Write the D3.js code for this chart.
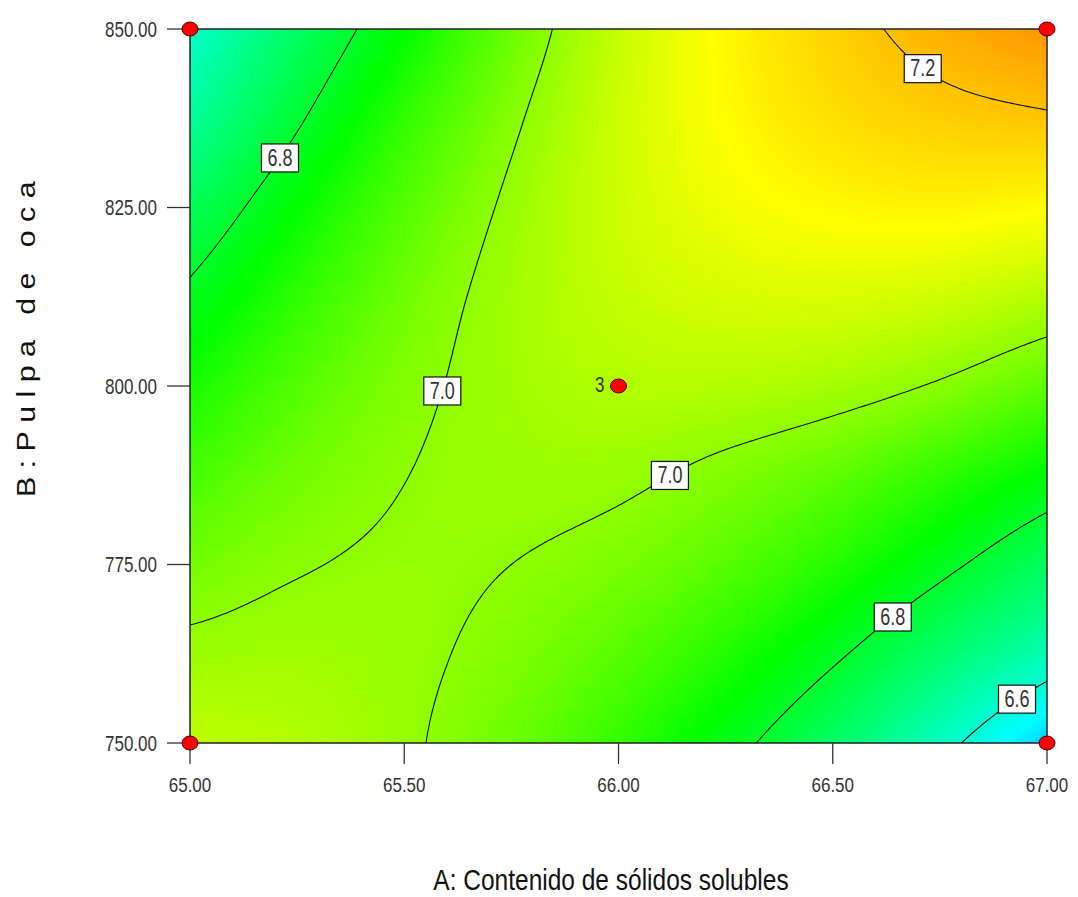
<!DOCTYPE html>
<html>
<head>
<meta charset="utf-8">
<script src="https://cdn.jsdelivr.net/npm/d3@7"></script>
<style>
body { margin: 0; background: #fff; }
text { font-family: "Liberation Sans", Arial, sans-serif; fill: #333; }
</style>
</head>
<body>
<div class="chart"></div>
<script>

// factor levels of the grid
var solidos = [65, 65.25, 65.5, 65.75, 66, 66.25, 66.5, 66.75, 67];        // A
var pulpa = [750, 762.5, 775, 787.5, 800, 812.5, 825, 837.5, 850];        // B

// predicted response, one row per pulpa level (750 -> 850)
var respuesta = [
  [7.050, 7.037, 7.008, 6.962, 6.902, 6.825, 6.732, 6.624, 6.500],
  [7.013, 7.019, 7.009, 6.984, 6.942, 6.885, 6.812, 6.724, 6.640],
  [6.971, 6.996, 7.006, 7.000, 6.979, 6.941, 6.888, 6.818, 6.740],
  [6.924, 6.969, 6.999, 7.012, 7.010, 6.985, 6.950, 6.900, 6.843],
  [6.873, 6.937, 6.986, 7.019, 7.037, 7.038, 7.024, 6.994, 6.948],
  [6.814, 6.898, 6.967, 7.020, 7.056, 7.076, 7.080, 7.068, 7.040],
  [6.746, 6.850, 6.938, 7.010, 7.066, 7.104, 7.126, 7.133, 7.123],
  [6.668, 6.791, 6.899, 6.990, 7.066, 7.122, 7.160, 7.182, 7.194],
  [6.612, 6.735, 6.850, 6.961, 7.057, 7.128, 7.178, 7.222, 7.255]
];

var ticksA = [65, 65.5, 66, 66.5, 67];
var ticksB = [750, 775, 800, 825, 850];
var niveles = [6.6, 6.8, 7.0, 7.2];

// design points
var puntosA = [65, 65, 67, 67, 66];
var puntosB = [750, 850, 750, 850, 800];
var replicas = [1, 1, 1, 1, 3];

// contour labels: level and the A (or B) value where the label sits on its line
var etiquetas = [
  {nivel: 7.2, a: 66.71},
  {nivel: 6.8, a: 65.21},
  {nivel: 7.0, b: 799.3},
  {nivel: 7.0, a: 66.12},
  {nivel: 6.8, a: 66.64},
  {nivel: 6.6, a: 66.93}
];

var W = 1078, H = 897;
var pL = 190, pR = 1047, pT = 29, pB = 743;

var svg = d3.select("div.chart").append("svg")
  .attr("width", W).attr("height", H);

var x = d3.scaleLinear().domain([65, 67]).range([pL, pR]);
var y = d3.scaleLinear().domain([750, 850]).range([pB, pT]);

//colour ramp blue - cyan - green - yellow - red
var color = d3.scaleLinear()
  .domain([6.3, 6.55, 6.85, 7.12, 7.45])
  .range(["#0000ff", "#00ffff", "#00ff00", "#ffff00", "#ff0000"])
  .clamp(true);

// grid value with linear extension past the edges
function g(i, j) {
  var n = solidos.length, m = pulpa.length;
  if (i < 0) return 2 * g(0, j) - g(1, j);
  if (i > n - 1) return 2 * g(n - 1, j) - g(n - 2, j);
  if (j < 0) return 2 * g(i, 0) - g(i, 1);
  if (j > m - 1) return 2 * g(i, m - 1) - g(i, m - 2);
  return respuesta[j][i];
}

function cr(p0, p1, p2, p3, t) {
  return p1 + 0.5 * t * (p2 - p0 + t * (2 * p0 - 5 * p1 + 4 * p2 - p3 + t * (3 * (p1 - p2) + p3 - p0)));
}

// smooth surface between the grid values
function superficie(a, b) {
  var n = solidos.length, m = pulpa.length;
  var u = (a - solidos[0]) / (solidos[1] - solidos[0]);
  var v = (b - pulpa[0]) / (pulpa[1] - pulpa[0]);
  u = Math.max(0, Math.min(n - 1, u));
  v = Math.max(0, Math.min(m - 1, v));
  var i = Math.min(Math.floor(u), n - 2), j = Math.min(Math.floor(v), m - 2);
  var t = u - i, s = v - j;
  var r = [];
  for (var k = -1; k <= 2; k++) {
    r.push(cr(g(i - 1, j + k), g(i, j + k), g(i + 1, j + k), g(i + 2, j + k), t));
  }
  return cr(r[0], r[1], r[2], r[3], s);
}

// ---- colour fill (raster) ----
var pw = pR - pL, ph = pB - pT;
var canvas = document.createElement("canvas");
canvas.width = pw; canvas.height = ph;
var ctx = canvas.getContext("2d");
var img = ctx.createImageData(pw, ph);
var lut = [], lo = 6.3, hi = 7.45, nl = 600;
for (var k = 0; k <= nl; k++) lut.push(d3.rgb(color(lo + (hi - lo) * k / nl)));
for (var py = 0; py < ph; py++) {
  var b = y.invert(pT + py + 0.5);
  for (var px = 0; px < pw; px++) {
    var a = x.invert(pL + px + 0.5);
    var val = superficie(a, b);
    var c = lut[Math.max(0, Math.min(nl, Math.round((val - lo) / (hi - lo) * nl)))];
    var o = (py * pw + px) * 4;
    img.data[o] = c.r; img.data[o + 1] = c.g; img.data[o + 2] = c.b; img.data[o + 3] = 255;
  }
}
ctx.putImageData(img, 0, 0);

svg.append("image")
  .attr("x", pL).attr("y", pT)
  .attr("width", pw).attr("height", ph)
  .attr("preserveAspectRatio", "none")
  .attr("href", canvas.toDataURL());

// ---- contour lines ----
svg.append("clipPath").attr("id", "plotclip")
  .append("rect").attr("x", pL).attr("y", pT).attr("width", pw).attr("height", ph);

var step = 3;
var nx = Math.ceil((pw + 2 * step) / step) + 1, ny = Math.ceil((ph + 2 * step) / step) + 1;
var grid = new Array(nx * ny);
for (var j = 0; j < ny; j++) {
  for (var i = 0; i < nx; i++) {
    grid[j * nx + i] = superficie(x.invert(pL - step + i * step), y.invert(pT - step + j * step));
  }
}
var contours = d3.contours().size([nx, ny]).thresholds(niveles)(grid);
var path = d3.geoPath(d3.geoTransform({
  point: function(cx, cy) {
    this.stream.point(pL - step + step * (cx - 0.5), pT - step + step * (cy - 0.5));
  }
}));

svg.append("g")
  .attr("clip-path", "url(#plotclip)")
  .selectAll("path")
  .data(contours)
  .enter()
  .append("path")
  .attr("d", path)
  .attr("fill", "none")
  .attr("stroke", "#111")
  .attr("stroke-width", 1.1);

// frame
svg.append("rect")
  .attr("x", pL).attr("y", pT).attr("width", pw).attr("height", ph)
  .attr("fill", "none").attr("stroke", "#222").attr("stroke-width", 1.5);

// ---- axes ----
svg.append("g").selectAll("line").data(ticksA).enter().append("line")
  .attr("x1", d => x(d)).attr("x2", d => x(d))
  .attr("y1", pB).attr("y2", pB + 21)
  .attr("stroke", "#333").attr("stroke-width", 1.3);
svg.append("g").selectAll("text").data(ticksA).enter().append("text")
  .attr("transform", d => "translate(" + x(d) + "," + (pB + 49) + ") scale(1,1.22)")
  .attr("text-anchor", "middle")
  .style("font-size", "17px")
  .text(d => d3.format(".2f")(d));

svg.append("g").selectAll("line").data(ticksB).enter().append("line")
  .attr("x1", pL - 23).attr("x2", pL)
  .attr("y1", d => y(d)).attr("y2", d => y(d))
  .attr("stroke", "#333").attr("stroke-width", 1.3);
svg.append("g").selectAll("text").data(ticksB).enter().append("text")
  .attr("transform", d => "translate(157," + (y(d) + 7.5) + ") scale(1,1.25)")
  .attr("text-anchor", "end")
  .style("font-size", "17px")
  .text(d => d3.format(".2f")(d));

svg.append("text")
  .attr("transform", "translate(611,890) scale(1,1.2)")
  .attr("text-anchor", "middle")
  .style("font-size", "24.5px")
  .style("fill", "#111")
  .text("A: Contenido de sólidos solubles");

svg.append("text")
  .attr("transform", "translate(35,335) rotate(-90) scale(1.17,1)")
  .attr("text-anchor", "middle")
  .style("letter-spacing", "7.2px")
  .style("font-size", "26px")
  .style("fill", "#111")
  .text("B:Pulpa de oca");

// ---- contour labels ----
function cruce(e) {
  var n = 200, prev = null, pa, pb;
  for (var k = 0; k <= n; k++) {
    var a = e.a !== undefined ? e.a : 65 + 2 * k / n;
    var b = e.b !== undefined ? e.b : 750 + 100 * k / n;
    var f = superficie(a, b) - e.nivel;
    if (prev !== null && (f >= 0) !== (prev >= 0)) {
      var t = prev / (prev - f);
      return [pa + (a - pa) * t, pb + (b - pb) * t];
    }
    prev = f; pa = a; pb = b;
  }
  return [e.a || 66, e.b || 800];
}

var lab = svg.append("g").selectAll("g").data(etiquetas).enter().append("g")
  .attr("transform", function(d) {
    var p = cruce(d);
    return "translate(" + x(p[0]) + "," + y(p[1]) + ")";
  });
lab.append("rect")
  .attr("x", -18.5).attr("y", -14).attr("width", 37).attr("height", 28)
  .attr("fill", "#fff").attr("stroke", "#111").attr("stroke-width", 1.2);
lab.append("text")
  .attr("transform", "scale(1,1.28)")
  .attr("y", 6)
  .attr("text-anchor", "middle")
  .style("font-size", "18px")
  .text(d => d3.format(".1f")(d.nivel));

// ---- design points ----
var pts = svg.append("g").selectAll("g").data(puntosA).enter().append("g")
  .attr("transform", (d, i) => "translate(" + x(d) + "," + y(puntosB[i]) + ")");
pts.append("ellipse")
  .attr("rx", 8).attr("ry", 7)
  .attr("fill", "#ff0000").attr("stroke", "#4a0000").attr("stroke-width", 1);
pts.each(function(d, i) {
  if (replicas[i] > 1) {
    d3.select(this).append("text")
      .attr("transform", "translate(-14,6) scale(1,1.25)")
      .attr("text-anchor", "end")
      .style("font-size", "17px")
      .style("fill", "#333")
      .text(replicas[i]);
  }
});

</script>
</body>
</html>
